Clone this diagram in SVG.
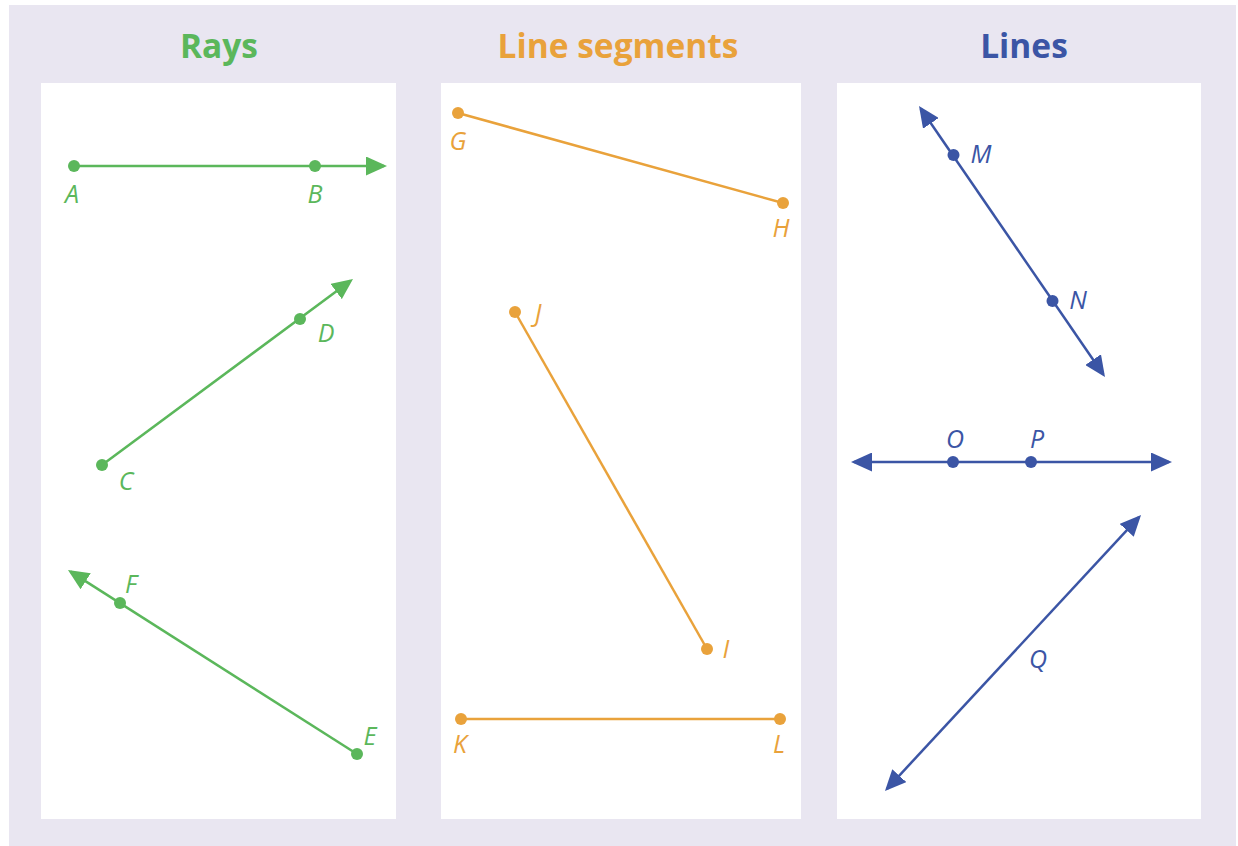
<svg xmlns="http://www.w3.org/2000/svg" width="1238" height="846" viewBox="0 0 1238 846">
  <defs>
    <style>
      .title { font-family: "Open Sans", "Noto Sans", sans-serif; font-weight: bold; font-size: 33.5px; text-anchor: middle; }
      .lbl { font-family: "Open Sans", "Noto Sans", sans-serif; font-style: italic; font-size: 25px; text-anchor: middle; }
      .panel { fill: #ffffff; }
      .g { stroke: #5BB75B; fill: none; stroke-width: 2.5; }
      .o { stroke: #E9A23B; fill: none; stroke-width: 2.5; }
      .b { stroke: #3B55A5; fill: none; stroke-width: 2.5; }
      .gf { fill: #5BB75B; }
      .of { fill: #E9A23B; }
      .bf { fill: #3B55A5; }
    </style>
    <marker id="arrG" markerUnits="userSpaceOnUse" markerWidth="21" markerHeight="19" refX="18" refY="9.5" orient="auto-start-reverse" viewBox="0 0 21 19">
      <path d="M0,0 L21,9.5 L0,19 z" fill="#5BB75B"/>
    </marker>
    <marker id="arrB" markerUnits="userSpaceOnUse" markerWidth="21" markerHeight="19" refX="18" refY="9.5" orient="auto-start-reverse" viewBox="0 0 21 19">
      <path d="M0,0 L21,9.5 L0,19 z" fill="#3B55A5"/>
    </marker>
  </defs>

  <rect x="0" y="0" width="1238" height="846" fill="#ffffff"/>
  <rect x="9" y="5" width="1227" height="841" fill="#E9E6F1"/>

  <g id="panels">
    <rect class="panel" x="41" y="83" width="355" height="736"/>
    <rect class="panel" x="441" y="83" width="360" height="736"/>
    <rect class="panel" x="837" y="83" width="364" height="736"/>
  </g>

  <g id="titles">
    <text class="title" x="219" y="58" fill="#5BB75B">Rays</text>
    <text class="title" x="618" y="58" fill="#E9A23B">Line segments</text>
    <text class="title" x="1024" y="58" fill="#3B55A5">Lines</text>
  </g>

  <g id="connectors">
    <line id="ray-AB" class="g" x1="74" y1="166" x2="384" y2="166" marker-end="url(#arrG)"/>
    <line id="ray-CD" class="g" x1="102" y1="465" x2="350.6" y2="280.8" marker-end="url(#arrG)"/>
    <line id="ray-EF" class="g" x1="357" y1="754" x2="70.5" y2="571.6" marker-end="url(#arrG)"/>
    <line id="seg-GH" class="o" x1="458" y1="113" x2="783" y2="203"/>
    <line id="seg-JI" class="o" x1="515" y1="312" x2="707" y2="649"/>
    <line id="seg-KL" class="o" x1="461" y1="719" x2="780" y2="719"/>
    <line id="line-MN" class="b" x1="920.7" y1="108.5" x2="1103.3" y2="374.5" marker-start="url(#arrB)" marker-end="url(#arrB)"/>
    <line id="line-OP" class="b" x1="854" y1="462" x2="1169" y2="462" marker-start="url(#arrB)" marker-end="url(#arrB)"/>
    <line id="line-Q" class="b" x1="1139" y1="517.2" x2="887" y2="788.8" marker-start="url(#arrB)" marker-end="url(#arrB)"/>
  </g>

  <g id="node-A"><circle class="gf" cx="74" cy="166" r="6"/><text class="lbl" x="72" y="203" fill="#5BB75B">A</text></g>
  <g id="node-B"><circle class="gf" cx="315" cy="166" r="6"/><text class="lbl" x="315" y="203" fill="#5BB75B">B</text></g>
  <g id="node-C"><circle class="gf" cx="102" cy="465" r="6"/><text class="lbl" x="126" y="490" fill="#5BB75B">C</text></g>
  <g id="node-D"><circle class="gf" cx="300" cy="319" r="6"/><text class="lbl" x="326" y="342" fill="#5BB75B">D</text></g>
  <g id="node-E"><circle class="gf" cx="357" cy="754" r="6"/><text class="lbl" x="370" y="745" fill="#5BB75B">E</text></g>
  <g id="node-F"><circle class="gf" cx="120" cy="603" r="6"/><text class="lbl" x="131" y="593" fill="#5BB75B">F</text></g>

  <g id="node-G"><circle class="of" cx="458" cy="113" r="6"/><text class="lbl" x="458" y="150" fill="#E9A23B">G</text></g>
  <g id="node-H"><circle class="of" cx="783" cy="203" r="6"/><text class="lbl" x="781" y="237" fill="#E9A23B">H</text></g>
  <g id="node-J"><circle class="of" cx="515" cy="312" r="6"/><text class="lbl" x="538" y="322" fill="#E9A23B">J</text></g>
  <g id="node-I"><circle class="of" cx="707" cy="649" r="6"/><text class="lbl" x="726" y="658" fill="#E9A23B">I</text></g>
  <g id="node-K"><circle class="of" cx="461" cy="719" r="6"/><text class="lbl" x="460" y="753" fill="#E9A23B">K</text></g>
  <g id="node-L"><circle class="of" cx="780" cy="719" r="6"/><text class="lbl" x="779" y="753" fill="#E9A23B">L</text></g>

  <g id="node-M"><circle class="bf" cx="953.5" cy="155" r="6"/><text class="lbl" x="981" y="163" fill="#3B55A5">M</text></g>
  <g id="node-N"><circle class="bf" cx="1052.5" cy="301" r="6"/><text class="lbl" x="1078" y="309" fill="#3B55A5">N</text></g>
  <g id="node-O"><circle class="bf" cx="953" cy="462" r="6"/><text class="lbl" x="955" y="448" fill="#3B55A5">O</text></g>
  <g id="node-P"><circle class="bf" cx="1031" cy="462" r="6"/><text class="lbl" x="1037" y="448" fill="#3B55A5">P</text></g>
  <g id="node-Q"><text class="lbl" x="1038" y="668" fill="#3B55A5">Q</text></g>
</svg>
